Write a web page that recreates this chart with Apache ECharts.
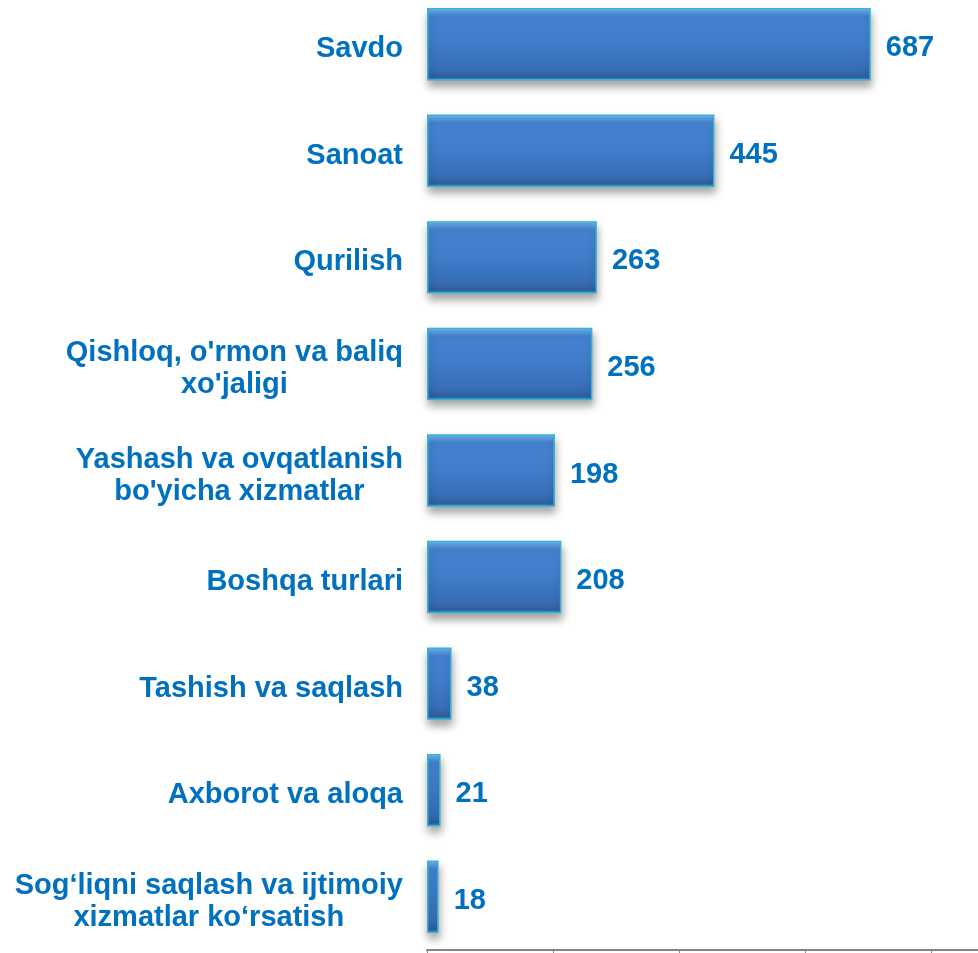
<!DOCTYPE html>
<html>
<head>
<meta charset="utf-8">
<script src="https://cdn.jsdelivr.net/npm/echarts@6/dist/echarts.min.js"></script>
<style>html,body{margin:0;padding:0;background:#fff;overflow:hidden;}#c{width:978px;height:962px;margin-top:-9px;}</style>
</head>
<body>
<div id="c"></div>
<script>
var categories = [
  "Savdo",
  "Sanoat",
  "Qurilish",
  "Qishloq, o'rmon va baliq\nxo'jaligi",
  "Yashash va ovqatlanish\nbo'yicha xizmatlar",
  "Boshqa turlari",
  "Tashish va saqlash",
  "Axborot va aloqa",
  "Sog\u2018liqni saqlash va ijtimoiy\nxizmatlar ko\u2018rsatish"
];
var values = [687, 445, 263, 256, 198, 208, 38, 21, 18];

var chart = echarts.init(document.getElementById('c'), null, {renderer: 'canvas'});
var blue = '#0070C0';
var font = '"Liberation Sans", Arial, sans-serif';
chart.setOption({
  animation: false,
  backgroundColor: '#ffffff',
  grid: {left: 427, right: 0, top: 0, bottom: 3, containLabel: false},
  xAxis: {
    type: 'value', min: 0, max: 853, interval: 195,
    axisLine: {show: true, lineStyle: {color: '#868686', width: 2}},
    axisTick: {show: true, length: 4, lineStyle: {color: '#868686', width: 1}},
    axisLabel: {show: false},
    splitLine: {show: false}
  },
  yAxis: {
    type: 'category', inverse: true, data: categories,
    axisLine: {show: false}, axisTick: {show: false},
    axisLabel: {
      margin: 24, align: 'right',
      formatter: function (v) { return '{c|' + v + '}'; },
      rich: {c: {align: 'center', color: blue, fontSize: 29, fontWeight: 'bold', fontFamily: font, lineHeight: 32, padding: [10, 0, 0, 0]}}
    }
  },
  series: [{
    type: 'bar', data: values, barCategoryGap: '32%',
    itemStyle: {
      color: new echarts.graphic.LinearGradient(0, 0, 0, 1, [
        {offset: 0, color: '#9EEFFF'},
        {offset: 0.03, color: '#63A8E6'},
        {offset: 0.12, color: '#4584D3'},
        {offset: 0.5, color: '#3F7CC9'},
        {offset: 0.85, color: '#376DB5'},
        {offset: 0.95, color: '#2E5E9E'},
        {offset: 1, color: '#3A9CC0'}
      ]),
      borderColor: '#35B3D3', borderWidth: 1.5,
      shadowColor: 'rgba(0,0,0,0.35)', shadowBlur: 8, shadowOffsetY: 6, shadowOffsetX: 1
    },
    label: {
      show: true, position: 'right', distance: 15, offset: [0, 4],
      color: blue, fontSize: 29, fontWeight: 'bold', fontFamily: font
    }
  }]
});
</script>
</body>
</html>
